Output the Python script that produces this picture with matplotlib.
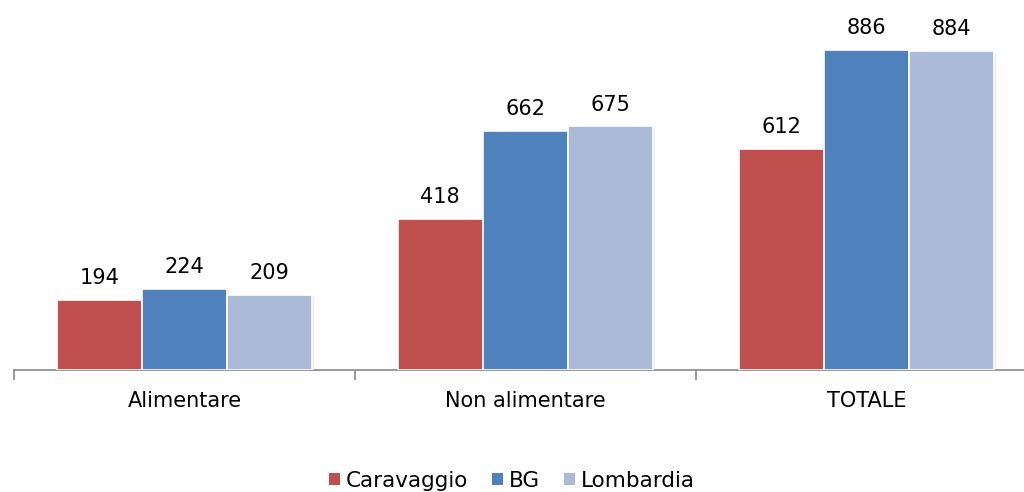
import matplotlib
matplotlib.use("Agg")
import matplotlib.pyplot as plt
import matplotlib.patheffects as pe
import numpy as np

categories = ["Alimentare", "Non alimentare", "TOTALE"]
series_names = ["Caravaggio", "BG", "Lombardia"]
caravaggio = [194, 418, 612]
bg = [224, 662, 886]
lombardia = [209, 675, 884]
colors = ["#C0504D", "#4F81BD", "#AABAD7"]

plt.rcParams['font.family'] = ['DejaVu Sans']

fig = plt.figure(figsize=(10.24, 4.92), dpi=100)
ax = fig.add_axes([14/1024, 122/492, 1023/1024, 361/492])

x = np.arange(len(categories))
w = 0.25
shadow = [pe.SimplePatchShadow(offset=(1.5, -1.5), shadow_rgbFace='#cccccc', alpha=0.4), pe.Normal()]
for i, (vals, name) in enumerate(zip([caravaggio, bg, lombardia], series_names)):
    bars = ax.bar(x + (i - 1) * w, vals, width=w, color=colors[i], edgecolor='white',
                  linewidth=1.2, label=name, zorder=3)
    for b in bars:
        b.set_path_effects(shadow)
    for xi, v in zip(x + (i - 1) * w, vals):
        ax.annotate(str(v), (xi, v), xytext=(0, 8.5), textcoords='offset points',
                    ha='center', va='bottom', fontsize=15, color='black')

ax.set_xlim(-0.5, 2.5)
ax.set_ylim(0, 1000)
ax.set_yticks([])
for s in ['top', 'right', 'left']:
    ax.spines[s].set_visible(False)
ax.spines['bottom'].set_color('#888888')
ax.spines['bottom'].set_linewidth(1.2)

ax.set_xticks([-0.5, 0.5, 1.5, 2.5])
ax.set_xticklabels([])
ax.tick_params(axis='x', which='major', length=7, color='#888888', width=1.2, direction='out')
ax.set_xticks(x, minor=True)
ax.set_xticklabels(categories, minor=True, fontsize=15)
ax.tick_params(axis='x', which='minor', length=0, pad=15)

leg = fig.legend(loc='center', bbox_to_anchor=(0.5, 11/492), ncol=3, frameon=False,
                 fontsize=15.5, handlelength=0.5, handleheight=0.5, handletextpad=0.3,
                 columnspacing=1.1)
for h in leg.legend_handles:
    h.set_path_effects([])
    h.set_edgecolor('none')

fig.savefig("out.png", dpi=100)
